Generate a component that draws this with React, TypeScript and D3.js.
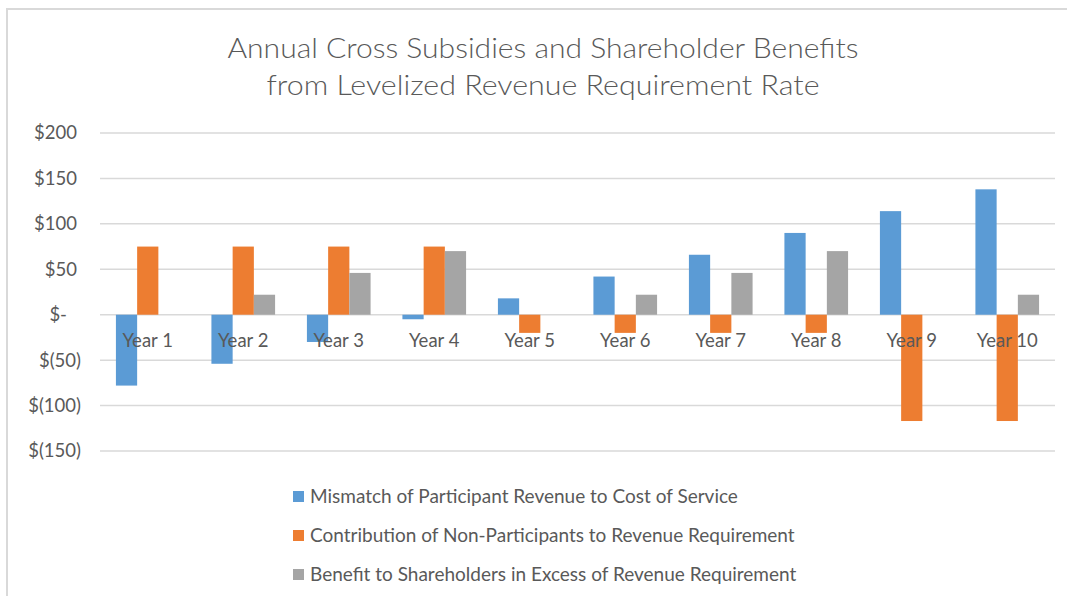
import React from "react";
import * as d3 from "d3";

const categories = ["Year 1","Year 2","Year 3","Year 4","Year 5","Year 6","Year 7","Year 8","Year 9","Year 10"];
const mismatch = [-78, -54, -30, -5, 18, 42, 66, 90, 114, 138];
const contribution = [75, 75, 75, 75, -20, -20, -20, -20, -117, -117];
const benefit = [0, 22, 46, 70, 0, 22, 46, 70, 0, 22];
const seriesNames = [
  "Mismatch of Participant Revenue to Cost of Service",
  "Contribution of Non-Participants to Revenue Requirement",
  "Benefit to Shareholders in Excess of Revenue Requirement",
];
const colors = ["#5B9BD5", "#ED7D31", "#A5A5A5"];
const yTicks = [200, 150, 100, 50, 0, -50, -100, -150];
const titleLines = ["Annual Cross Subsidies and Shareholder Benefits", "from Levelized Revenue Requirement Rate"];

const fmt = (v: number) => (v === 0 ? "$-" : v < 0 ? `$(${Math.abs(v)})` : `$${v}`);

export default function App() {
  const W = 1067, H = 596;
  const font = "Lato, 'Open Sans', sans-serif";
  const textColor = "#595959";
  const x = d3.scaleBand().domain(categories).range([100, 1055]).paddingInner(0.3333).paddingOuter(0.16667);
  const y = d3.scaleLinear().domain([-150, 200]).range([451, 133]);
  const series = [mismatch, contribution, benefit];
  const bw = x.step() / 4.5;
  const inner = d3.scaleBand<number>().domain([0, 1, 2]).range([0, bw * 3]);
  const titleWidths = [631, 553];
  const labelEnd = (v: number) => (v === 0 ? 67 : v < 0 ? 81 : 77);
  return (
    <svg width={W} height={H} style={{ position: "absolute", left: 0, top: 0, background: "#fff" }}>
      <line x1={6} x2={W} y1={9} y2={9} stroke="#d9d9d9" strokeWidth={2} />
      <line x1={7} x2={7} y1={8} y2={H} stroke="#d9d9d9" strokeWidth={2} />
      {titleLines.map((t, i) => (
        <text key={i} x={543} y={58 + i * 37} textAnchor="middle" fontFamily={font} fontWeight={300} fontSize={28} textLength={titleWidths[i]} lengthAdjust="spacingAndGlyphs" fill={textColor}>{t}</text>
      ))}
      {yTicks.map((t) => (
        <g key={t}>
          <line x1={100} x2={1055} y1={y(t)} y2={y(t)} stroke="#d9d9d9" strokeWidth={1.5} />
          <text x={labelEnd(t)} y={y(t)} dy="0.35em" textAnchor="end" fontFamily={font} fontSize={18.5} fill={textColor}>{fmt(t)}</text>
        </g>
      ))}
      {categories.map((c, i) => {
        const cx = (x.bandwidth() - bw * 3) / 2 + (x(c) as number);
        return series.map((s, k) => {
          const v = s[i];
          if (v === 0) return null;
          return (
            <rect key={c + k} x={cx + (inner(k) as number)} width={bw} y={Math.min(y(v), y(0))} height={Math.abs(y(v) - y(0))} fill={colors[k]} />
          );
        });
      })}
      {categories.map((c) => (
        <text key={c} x={(x(c) as number) + x.bandwidth() / 2} y={341} dy="0.35em" textAnchor="middle" fontFamily={font} fontSize={18.5} fill={textColor}>{c}</text>
      ))}
      {seriesNames.map((n, i) => (
        <g key={n}>
          <rect x={293} y={491 + i * 39} width={11} height={11} fill={colors[i]} />
          <text x={310} y={496.5 + i * 39} dy="0.35em" fontFamily={font} fontSize={19} fill={textColor}>{n}</text>
        </g>
      ))}
    </svg>
  );
}
